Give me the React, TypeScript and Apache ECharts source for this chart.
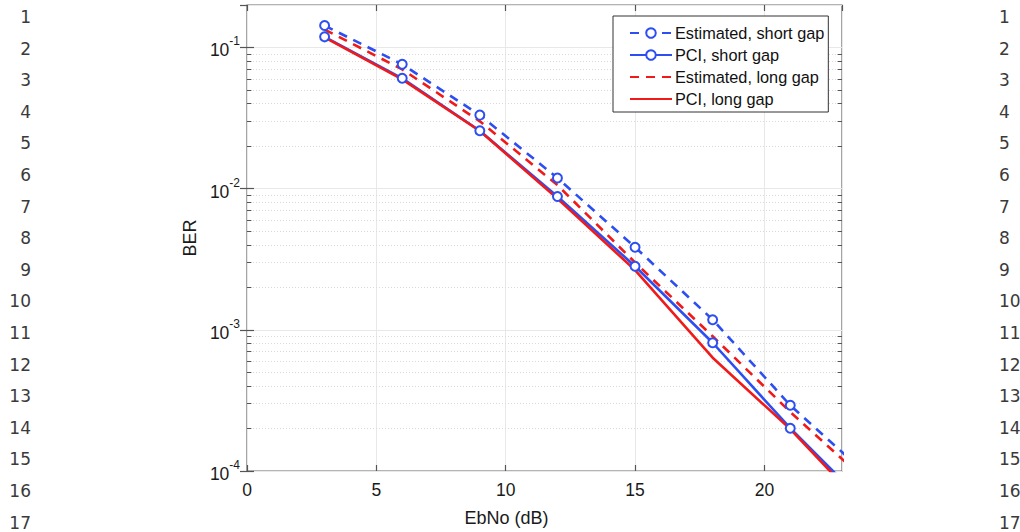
import React, { useEffect, useRef } from "react";
import * as echarts from "echarts";

// ---- data ----
const ebno = [3, 6, 9, 12, 15, 18, 21, 24];
const estShort = [0.143, 0.076, 0.0332, 0.0119, 0.00385, 0.00118, 0.000292, 0.000093];
const pciShort = [0.119, 0.0605, 0.0257, 0.0088, 0.00282, 0.00081, 0.000201, 0.0000565];
const estLong = [0.134, 0.07, 0.03, 0.0106, 0.003, 0.0009, 0.000262, 0.000083];
const pciLong = [0.118, 0.0595, 0.0256, 0.0085, 0.00265, 0.000635, 0.000198, 0.000052];
const seriesNames = ["Estimated, short gap", "PCI, short gap", "Estimated, long gap", "PCI, long gap"];
const xTicks = [0, 5, 10, 15, 20];
const yDecades = [-4, -3, -2, -1];
const minorMultipliers = [2, 3, 4, 5, 6, 7, 8, 9];
const lineNumbers = [1, 2, 3, 4, 5, 6, 7, 8, 9, 10, 11, 12, 13, 14, 15, 16, 17];

const X_MIN = 0;
const X_MAX = 23;
const Y_MIN = 1e-4;
const Y_MAX = 0.2;

const BLUE = "#2d4ff2";
const RED = "#f01a1a";
const FONT = "Liberation Sans, Arial, Helvetica, sans-serif";

function pairs(ys: number[]) {
  return ebno.map((x, i) => [x, ys[i]]);
}

export default function App() {
  const ref = useRef<HTMLDivElement>(null);
  useEffect(() => {
    if (!ref.current) return;
    const chart = echarts.init(ref.current, undefined, { renderer: "svg" });

    const minorVals: number[] = [];
    yDecades.forEach((e) => {
      minorMultipliers.forEach((m) => {
        const v = m * Math.pow(10, e);
        if (v < Y_MAX - 1e-12) minorVals.push(v);
      });
    });
    const tickLen = 0.17; // in x data units
    const minorMarks: any[] = [];
    minorVals.forEach((v) => {
      minorMarks.push([{ coord: [X_MIN, v] }, { coord: [X_MAX, v] }]);
    });
    const minorTickMarks: any[] = [];
    minorVals.forEach((v) => {
      minorTickMarks.push([{ coord: [X_MIN, v] }, { coord: [X_MIN + tickLen, v] }]);
      minorTickMarks.push([{ coord: [X_MAX - tickLen, v] }, { coord: [X_MAX, v] }]);
    });

    const isPow10 = (v: number) => {
      const l = Math.log10(v);
      return Math.abs(l - Math.round(l)) < 1e-6;
    };

    const lineNumGraphics: any[] = [];
    lineNumbers.forEach((n, i) => {
      const y = 17 + 31.6 * i;
      lineNumGraphics.push({
        type: "text",
        x: 31,
        y,
        style: {
          text: String(n),
          font: "17px DejaVu Sans, sans-serif",
          fill: "#3a3a3a",
          textAlign: "right",
          textVerticalAlign: "middle",
        },
      });
      lineNumGraphics.push({
        type: "text",
        x: 999,
        y,
        style: {
          text: String(n),
          font: "17px DejaVu Sans, sans-serif",
          fill: "#3a3a3a",
          textAlign: "left",
          textVerticalAlign: "middle",
        },
      });
    });

    const styles = [
      { color: BLUE, dashed: true, markers: true },
      { color: BLUE, dashed: false, markers: true },
      { color: RED, dashed: true, markers: false },
      { color: RED, dashed: false, markers: false },
    ];

    const mainLine = (i: number, ys: number[]) => {
      const s = styles[i];
      return {
        name: seriesNames[i],
        type: "line",
        data: pairs(ys),
        xAxisIndex: 0,
        yAxisIndex: 0,
        z: 5,
        clip: true,
        symbol: s.markers ? "emptyCircle" : "circle",
        showSymbol: s.markers,
        symbolSize: 9,
        itemStyle: s.markers
          ? { color: s.color, borderColor: s.color, borderWidth: 2.5 }
          : { color: "transparent", borderColor: "transparent", borderWidth: 0 },
        lineStyle: { color: s.color, width: 2.6, type: s.dashed ? [9, 7] : "solid" },
        emphasis: { disabled: true },
      };
    };

    chart.setOption({
      animation: false,
      backgroundColor: "#ffffff",
      textStyle: { fontFamily: FONT },
      grid: {
        left: 247,
        right: 178,
        top: 5,
        bottom: 58,
        show: true,
        borderColor: "#6a6a6a",
        borderWidth: 1.2,
        backgroundColor: "transparent",
      },
      legend: {
        data: seriesNames,
        z: 50,
        orient: "vertical",
        left: 613,
        top: 16,
        itemWidth: 42,
        itemHeight: 12,
        itemGap: 6,
        padding: [9, 4, 5, 16],
        backgroundColor: "#ffffff",
        borderColor: "#333333",
        borderWidth: 1,
        borderRadius: 0,
        textStyle: { fontFamily: FONT, fontSize: 16.3, color: "#111111", padding: [0, 0, 0, -2] },
        selectedMode: false,
      },
      xAxis: [
        {
          type: "value",
          min: X_MIN,
          max: X_MAX,
          interval: 5,
          name: "EbNo (dB)",
          nameLocation: "middle",
          nameGap: 38,
          nameTextStyle: { fontFamily: FONT, fontSize: 18, color: "#1a1a1a", padding: [0, 76, 0, 0] },
          axisLine: { show: false },
          axisTick: { show: true, inside: true, length: 6, lineStyle: { color: "#555555", width: 1.2 } },
          axisLabel: {
            showMaxLabel: false,
            fontFamily: FONT,
            fontSize: 17.5,
            color: "#1a1a1a",
            margin: 10,
            formatter: (v: number) => (xTicks.indexOf(v) >= 0 ? String(v) : ""),
          },
          splitLine: { show: true, lineStyle: { color: "#e8e8e8", width: 1 } },
        },
        {
          type: "value",
          position: "top",
          min: X_MIN,
          max: X_MAX,
          interval: 5,
          axisLine: { show: false },
          axisTick: { show: true, inside: true, length: 6, lineStyle: { color: "#555555", width: 1.2 } },
          axisLabel: { show: false },
          splitLine: { show: false },
        },
      ],
      yAxis: [
        {
          type: "log",
          logBase: 10,
          min: Y_MIN,
          max: Y_MAX,
          splitNumber: 4,
          name: "BER",
          nameLocation: "middle",
          nameGap: 45,
          nameTextStyle: { fontFamily: FONT, fontSize: 18, color: "#1a1a1a" },
          axisLine: { show: false },
          axisTick: { show: true, inside: true, length: 7, lineStyle: { color: "#555555", width: 1.2 } },
          axisLabel: {
            showMaxLabel: false,
            margin: 7,
            fontSize: 17.5,
            fontFamily: FONT,
            color: "#1a1a1a",
            formatter: (v: number) => (isPow10(v) ? `{b|10}{s|${Math.round(Math.log10(v))}}` : ""),
            rich: {
              b: { fontFamily: FONT, fontSize: 17.5, color: "#1a1a1a", verticalAlign: "bottom", lineHeight: 24 },
              s: { fontFamily: FONT, fontSize: 12, color: "#1a1a1a", verticalAlign: "top", lineHeight: 24, padding: [0, 0, 7, 0] },
            },
          },
          splitLine: { show: true, lineStyle: { color: "#e8e8e8", width: 1 } },
        },
        {
          type: "log",
          logBase: 10,
          position: "right",
          min: Y_MIN,
          max: Y_MAX,
          splitNumber: 4,
          axisLine: { show: false },
          axisTick: { show: true, inside: true, length: 7, lineStyle: { color: "#555555", width: 1.2 } },
          axisLabel: { show: false },
          splitLine: { show: false },
        },
      ],
      graphic: lineNumGraphics,
      series: [
        {
          name: "minorGrid",
          type: "line",
          data: [],
          z: 1,
          silent: true,
          markLine: {
            silent: true,
            z: 1,
            symbol: ["none", "none"],
            label: { show: false },
            lineStyle: { color: "#dadada", width: 1, type: [1, 2] },
            emphasis: { disabled: true },
            data: minorMarks,
          },
        },
        {
          name: "minorTicks",
          type: "line",
          data: [],
          z: 2,
          silent: true,
          markLine: {
            silent: true,
            z: 2,
            symbol: ["none", "none"],
            label: { show: false },
            lineStyle: { color: "#555555", width: 1, type: "solid" },
            emphasis: { disabled: true },
            data: minorTickMarks,
          },
        },
        mainLine(0, estShort),
        mainLine(1, pciShort),
        mainLine(2, estLong),
        mainLine(3, pciLong),
      ],
    });
    return () => chart.dispose();
  }, []);
  return <div ref={ref} style={{ width: 1020, height: 532, position: "absolute", left: 0, top: 0 }} />;
}
